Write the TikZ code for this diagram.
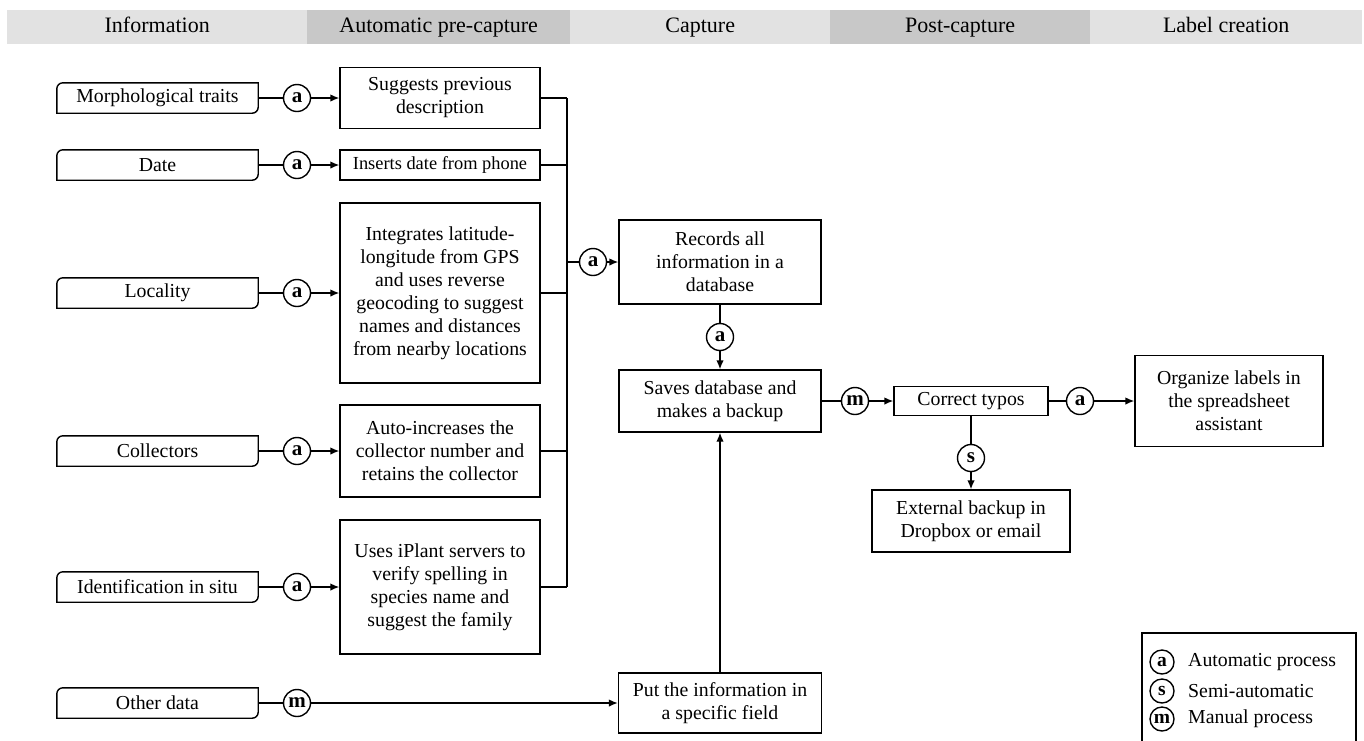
\documentclass[tikz,border=0pt]{standalone}
\usepackage{fontspec}
\setmainfont{Liberation Serif}
\usetikzlibrary{arrows.meta}
\definecolor{hdrlight}{HTML}{E2E2E2}
\definecolor{hdrdark}{HTML}{C8C8C8}
\begin{document}
\begin{tikzpicture}[x=1pt,y=-1pt,
  every node/.style={font=\fontsize{19.8}{23}\selectfont, inner sep=0pt},
  hdr/.style={minimum height=34pt, text height=15pt, text depth=5pt, font=\fontsize{22}{24}\selectfont, anchor=west},
  hlight/.style={hdr, fill=hdrlight},
  hdark/.style={hdr, fill=hdrdark},
  inbox/.style={minimum width=201pt, minimum height=30pt},
  pbox/.style={draw, line width=1.4pt, align=center, fill=white},
  circ/.style={circle, draw, line width=1.4pt, minimum size=27pt, fill=white, font=\fontsize{21}{21}\selectfont\bfseries},
  lcirc/.style={circ, minimum size=24pt, font=\fontsize{19.5}{20}\selectfont\bfseries},
  conn/.style={line width=1.4pt},
  arr/.style={conn, -{Latex[length=9pt,width=7.5pt]}},
]
\useasboundingbox (0,0) rectangle (1364,740);

% header bands
\node[hlight, minimum width=300pt] (hinfo) at (7,27) {Information};
\node[hdark, minimum width=263pt] (hauto) at (307,27) {Automatic pre-capture};
\node[hlight, minimum width=260pt] (hcap) at (570,27) {Capture};
\node[hdark, minimum width=260pt] (hpost) at (830,27) {Post-capture};
\node[hlight, minimum width=272pt] (hlab) at (1090,27) {Label creation};

% input boxes
\node[inbox] (morph) at (157.5,98) {Morphological traits};
\node[inbox] (date) at (157.5,165) {Date};
\node[inbox] (loc) at (157.5,293) {Locality};
\node[inbox] (coll) at (157.5,451) {Collectors};
\node[inbox] (ident) at (157.5,587) {Identification in situ};
\node[inbox] (other) at (157.5,703) {Other data};
\foreach \n in {morph,date,loc,coll,ident,other}{
  \draw[conn, rounded corners=6pt, line cap=rect] (\n.south west) -- (\n.north west) -- (\n.north east);
  \draw[conn, rounded corners=6pt, line cap=rect] (\n.north east) -- (\n.south east) -- (\n.south west);
}

% pre-capture boxes
\node[pbox, minimum width=200pt, minimum height=61pt] (sug) at (440,98) {Suggests previous\\description};
\node[pbox, minimum width=200pt, minimum height=30pt, font=\fontsize{18.4}{22}\selectfont] (ins) at (440,165) {Inserts date from phone};
\node[pbox, minimum width=200pt, minimum height=180pt] (integ) at (440,293) {Integrates latitude-\\longitude from GPS\\and uses reverse\\geocoding to suggest\\names and distances\\from nearby locations};
\node[pbox, minimum width=200pt, minimum height=92pt] (autoinc) at (440,451) {Auto-increases the\\collector number and\\retains the collector};
\node[pbox, minimum width=200pt, minimum height=134pt] (uses) at (440,587) {Uses iPlant servers to\\verify spelling in\\species name and\\suggest the family};

% circles on input lines
\node[circ] (c1) at (297,98) {a};
\node[circ] (c2) at (297,165) {a};
\node[circ] (c3) at (297,293) {a};
\node[circ] (c4) at (297,451) {a};
\node[circ] (c5) at (297,587) {a};
\node[circ] (c6) at (297,703) {m};

\foreach \i/\s/\t in {1/morph/sug,2/date/ins,3/loc/integ,4/coll/autoinc,5/ident/uses}{
  \draw[conn] (\s) -- (c\i);
  \draw[arr] (c\i) -- (\t);
}

% bus
\coordinate (busT) at (567,98);
\coordinate (busB) at (567,587);
\draw[conn] (busT) -- (busB);
\foreach \b in {sug,ins,integ,autoinc,uses}{
  \draw[conn] (\b.east) -- (\b.east -| busT);
}

% capture
\node[pbox, minimum width=202pt, minimum height=84pt] (rec) at (720,262) {Records all\\information in a\\database};
\node[circ] (crec) at (593,262) {a};
\draw[conn] (busT |- crec) -- (crec);
\draw[arr] (crec) -- (rec);

\node[pbox, minimum width=202pt, minimum height=62pt] (saves) at (720,401) {Saves database and\\makes a backup};
\node[circ] (cdb) at (720,337) {a};
\draw[conn] (rec) -- (cdb);
\draw[arr] (cdb) -- (saves);

\node[pbox, minimum width=203pt, minimum height=60pt] (put) at (720,703) {Put the information in\\a specific field};
\draw[conn] (other) -- (c6);
\draw[arr] (c6) -- (put);
\draw[arr] (put) -- (saves);

% post-capture
\node[pbox, minimum width=154pt, minimum height=29pt] (typo) at (971,401) {Correct typos};
\node[circ] (cm) at (855,401) {m};
\draw[conn] (saves) -- (cm);
\draw[arr] (cm) -- (typo);

\node[pbox, minimum width=198pt, minimum height=62pt] (ext) at (971,521) {External backup in\\Dropbox or email};
\node[circ] (cs) at (971,458) {s};
\draw[conn] (typo) -- (cs);
\draw[arr] (cs) -- (ext);

% label creation
\node[pbox, minimum width=188pt, minimum height=91pt] (org) at (1229,401) {Organize labels in\\the spreadsheet\\assistant};
\node[circ] (corg) at (1080,401) {a};
\draw[conn] (typo) -- (corg);
\draw[arr] (corg) -- (org);

% legend
\node[draw, line width=1.4pt, minimum width=214pt, minimum height=114pt] (legend) at (1249,690) {};
\node[lcirc] (la) at (1162,662) {a};
\node[lcirc] (ls) at (1162,691) {s};
\node[lcirc] (lm) at (1162,719) {m};
\node[anchor=west] (lta) at (1188,662) {Automatic process};
\node[anchor=west] (lts) at (1188,691) {Semi-automatic};
\node[anchor=west] (ltm) at (1188,719) {Manual process};
\end{tikzpicture}
\end{document}
